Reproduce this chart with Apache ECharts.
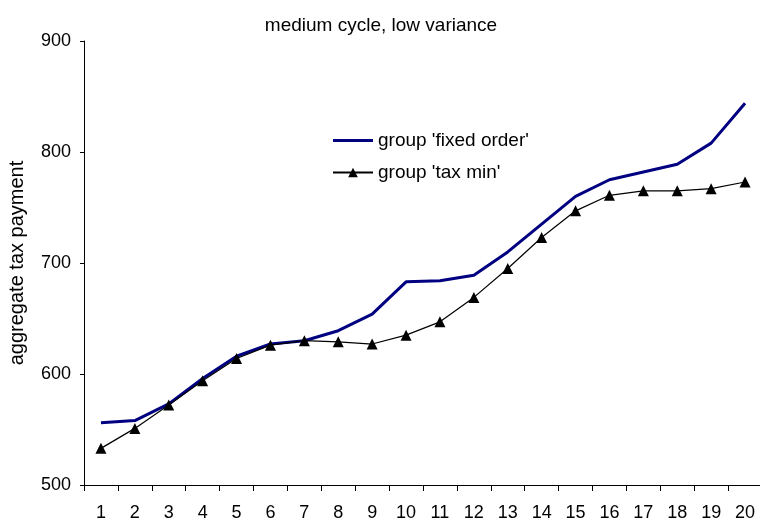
<!DOCTYPE html>
<html>
<head>
<meta charset="utf-8">
<script src="https://cdn.jsdelivr.net/npm/echarts@6/dist/echarts.min.js"></script>
<style>
  html, body { margin: 0; padding: 0; background: #fff; }
  #chart { width: 760px; height: 525px; }
</style>
</head>
<body>
<div id="chart"></div>
<script>
// periods on the x axis
const periods = ['1','2','3','4','5','6','7','8','9','10','11','12','13','14','15','16','17','18','19','20'];
// group 'fixed order'
const fixedOrder = [556, 558, 573, 596, 616, 627, 630, 639, 654, 683, 684, 689, 710, 735, 760, 775, 782, 789, 808, 844];
// group 'tax min'
const taxMin = [533, 551, 572, 594, 614, 626, 630, 629, 627, 635, 647, 669, 695, 723, 747, 761, 765, 765, 767, 773];

const chart = echarts.init(document.getElementById('chart'));
const font = 'Liberation Sans, Arial, sans-serif';

const option = {
  animation: false,
  backgroundColor: '#fff',
  title: {
    text: 'medium cycle, low variance',
    left: 376,
    top: 11,
    textAlign: 'center',
    textStyle: { fontFamily: font, fontSize: 19, fontWeight: 'normal', color: '#000' }
  },
  legend: {
    orient: 'vertical',
    left: 327,
    top: 126,
    itemGap: 13,
    itemWidth: 40,
    itemHeight: 12,
    textStyle: { fontFamily: font, fontSize: 19, color: '#000' },
    data: [
      // plain thick line sample, no marker
      { name: "group 'fixed order'", icon: 'path://M0,0H40V3H0Z' },
      "group 'tax min'"
    ]
  },
  grid: { left: 84, right: -2, top: 41, bottom: 40, outerBoundsMode: 'none' },
  xAxis: {
    type: 'category',
    data: periods,
    boundaryGap: true,
    axisLine: { lineStyle: { color: '#000', width: 1 } },
    axisTick: { show: true, length: 6, inside: false, lineStyle: { color: '#000' } },
    axisLabel: { color: '#000', fontFamily: font, fontSize: 18, margin: 19 },
    splitLine: { show: false }
  },
  yAxis: {
    type: 'value',
    min: 500,
    max: 900,
    interval: 100,
    name: 'aggregate tax payment',
    nameLocation: 'middle',
    nameGap: 57,
    nameTextStyle: { color: '#000', fontFamily: font, fontSize: 20 },
    axisLine: { show: true, lineStyle: { color: '#000', width: 1 } },
    axisTick: { show: true, length: 4, lineStyle: { color: '#000' } },
    axisLabel: { color: '#000', fontFamily: font, fontSize: 18, margin: 13 },
    splitLine: { show: false }
  },
  series: [
    {
      name: "group 'fixed order'",
      type: 'line',
      data: fixedOrder,
      symbol: 'none',
      z: 2,
      lineStyle: { color: '#000080', width: 3 },
      itemStyle: { color: '#000080' }
    },
    {
      name: "group 'tax min'",
      type: 'line',
      data: taxMin,
      symbol: 'triangle',
      symbolSize: 11,
      z: 3,
      lineStyle: { color: '#000', width: 1.2 },
      itemStyle: { color: '#000' }
    }
  ]
};

chart.setOption(option);
</script>
</body>
</html>
